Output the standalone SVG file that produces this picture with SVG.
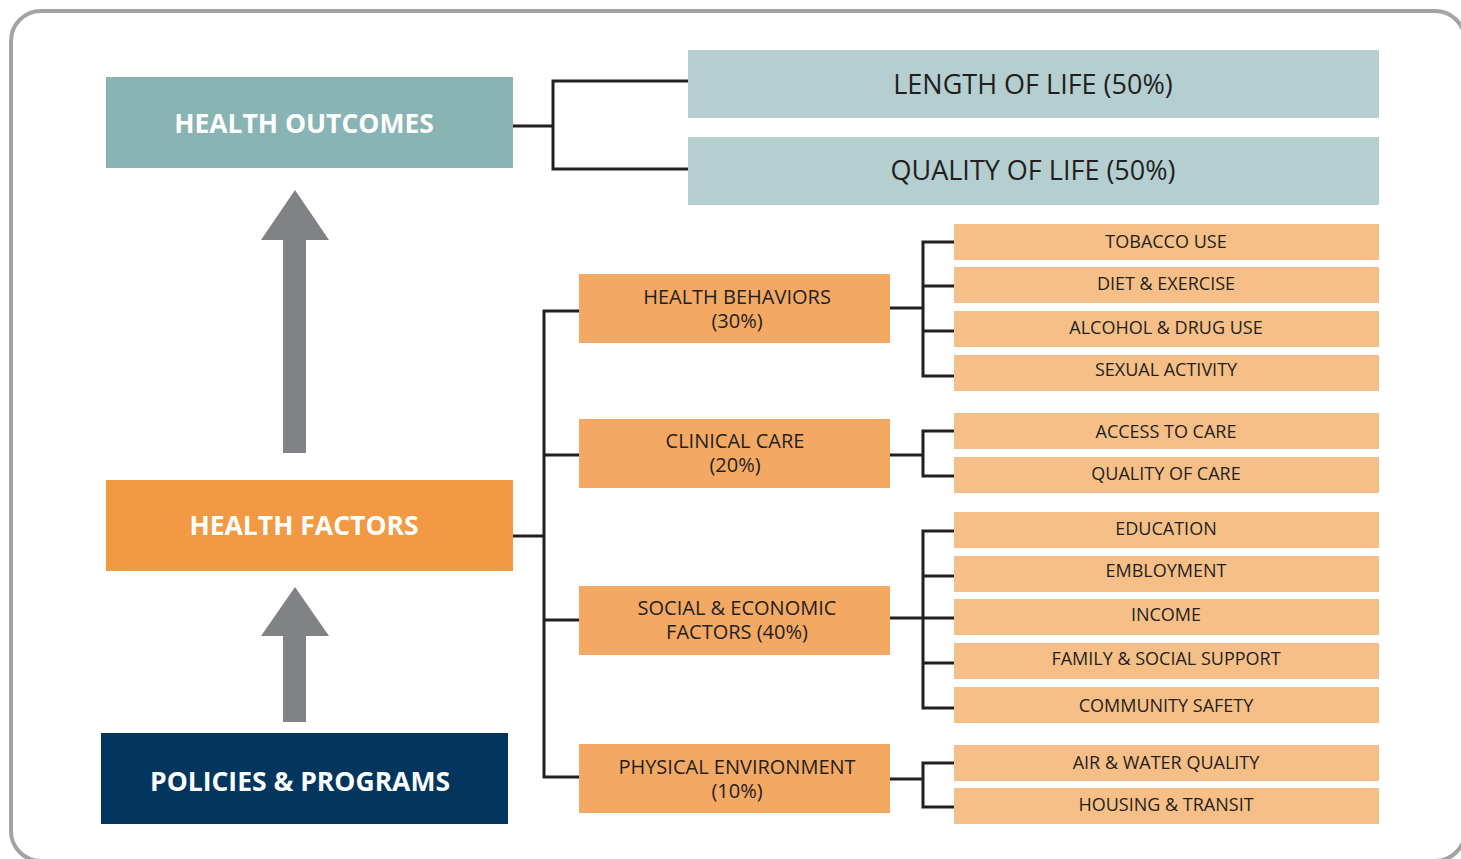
<svg xmlns="http://www.w3.org/2000/svg" width="1461" height="859" viewBox="0 0 1461 859">
<style>
.frame{fill:#fff;stroke:#a3a3a7;stroke-width:4}
.big{font-family:"Open Sans","Liberation Sans",sans-serif;font-weight:700;font-size:26.5px;fill:#fff;text-anchor:middle}
.out{fill:#b5cfd1}
.outt{font-family:"Open Sans","Liberation Sans",sans-serif;font-size:27px;fill:#231f20;text-anchor:middle}
.mid{fill:#f3a864}
.midt{font-family:"Open Sans","Liberation Sans",sans-serif;font-size:20px;fill:#231f20;text-anchor:middle}
.leaf{fill:#f6bf87}
.leaft{font-family:"Open Sans","Liberation Sans",sans-serif;font-size:18px;fill:#231f20;text-anchor:middle}
.arrow{fill:#818286}
#connectors path{fill:none;stroke:#231f20;stroke-width:3}
</style>
<rect class="frame" x="11" y="11" width="1454" height="850" rx="30"/>

<g id="connectors">
<path d="M513,126 H553 M688,81 H553 V169 H688"/>
<path d="M513,536 H544 M579,311 H544 V777 H579 M544,455 H579 M544,620 H579"/>
<path d="M890,308 H923 M954,242 H923 V376 H954 M923,286 H954 M923,331 H954"/>
<path d="M890,455 H923 M954,431 H923 V476 H954"/>
<path d="M890,618 H923 M954,531 H923 V708 H954 M923,576 H954 M923,618 H954 M923,663 H954"/>
<path d="M890,779 H923 M954,763 H923 V807 H954"/>
</g>

<g id="arrow-up-1"><path class="arrow" d="M295,190 L329,240 H306 V453 H283 V240 H261 Z"/></g>
<g id="arrow-up-2"><path class="arrow" d="M295,587 L329,636 H306 V722 H283 V636 H261 Z"/></g>

<g id="health-outcomes"><rect x="106" y="77" width="407" height="91" fill="#88b4b4"/><text class="big" x="304" y="133">HEALTH OUTCOMES</text></g>
<g id="health-factors"><rect x="106" y="480" width="407" height="91" fill="#f29a43"/><text class="big" x="304" y="535">HEALTH FACTORS</text></g>
<g id="policies"><rect x="101" y="733" width="407" height="91" fill="#03365f"/><text class="big" x="300" y="791">POLICIES &amp; PROGRAMS</text></g>

<g id="length-of-life"><rect class="out" x="688" y="50" width="691" height="68"/><text class="outt" x="1033" y="94">LENGTH OF LIFE (50%)</text></g>
<g id="quality-of-life"><rect class="out" x="688" y="137" width="691" height="68"/><text class="outt" x="1033" y="180">QUALITY OF LIFE (50%)</text></g>

<g id="health-behaviors"><rect class="mid" x="579" y="274" width="311" height="69"/><text class="midt" x="737" y="304">HEALTH BEHAVIORS<tspan x="737" dy="24">(30%)</tspan></text></g>
<g id="clinical-care"><rect class="mid" x="579" y="419" width="311" height="69"/><text class="midt" x="735" y="448">CLINICAL CARE<tspan x="735" dy="24">(20%)</tspan></text></g>
<g id="social-economic"><rect class="mid" x="579" y="586" width="311" height="69"/><text class="midt" x="737" y="615">SOCIAL &amp; ECONOMIC<tspan x="737" dy="24">FACTORS (40%)</tspan></text></g>
<g id="physical-environment"><rect class="mid" x="579" y="744" width="311" height="69"/><text class="midt" x="737" y="774">PHYSICAL ENVIRONMENT<tspan x="737" dy="24">(10%)</tspan></text></g>

<g id="tobacco"><rect class="leaf" x="954" y="224" width="425" height="36"/><text class="leaft" x="1166" y="248">TOBACCO USE</text></g>
<g id="diet"><rect class="leaf" x="954" y="267" width="425" height="36"/><text class="leaft" x="1166" y="290">DIET &amp; EXERCISE</text></g>
<g id="alcohol"><rect class="leaf" x="954" y="311" width="425" height="36"/><text class="leaft" x="1166" y="334">ALCOHOL &amp; DRUG USE</text></g>
<g id="sexual"><rect class="leaf" x="954" y="355" width="425" height="36"/><text class="leaft" x="1166" y="376">SEXUAL ACTIVITY</text></g>
<g id="access"><rect class="leaf" x="954" y="413" width="425" height="36"/><text class="leaft" x="1166" y="438">ACCESS TO CARE</text></g>
<g id="quality-care"><rect class="leaf" x="954" y="457" width="425" height="36"/><text class="leaft" x="1166" y="480">QUALITY OF CARE</text></g>
<g id="education"><rect class="leaf" x="954" y="512" width="425" height="36"/><text class="leaft" x="1166" y="535">EDUCATION</text></g>
<g id="employment"><rect class="leaf" x="954" y="556" width="425" height="36"/><text class="leaft" x="1166" y="577">EMBLOYMENT</text></g>
<g id="income"><rect class="leaf" x="954" y="599" width="425" height="36"/><text class="leaft" x="1166" y="621">INCOME</text></g>
<g id="family"><rect class="leaf" x="954" y="643" width="425" height="36"/><text class="leaft" x="1166" y="665">FAMILY &amp; SOCIAL SUPPORT</text></g>
<g id="community"><rect class="leaf" x="954" y="687" width="425" height="36"/><text class="leaft" x="1166" y="712">COMMUNITY SAFETY</text></g>
<g id="air-water"><rect class="leaf" x="954" y="745" width="425" height="36"/><text class="leaft" x="1166" y="769">AIR &amp; WATER QUALITY</text></g>
<g id="housing"><rect class="leaf" x="954" y="788" width="425" height="36"/><text class="leaft" x="1166" y="811">HOUSING &amp; TRANSIT</text></g>
</svg>
